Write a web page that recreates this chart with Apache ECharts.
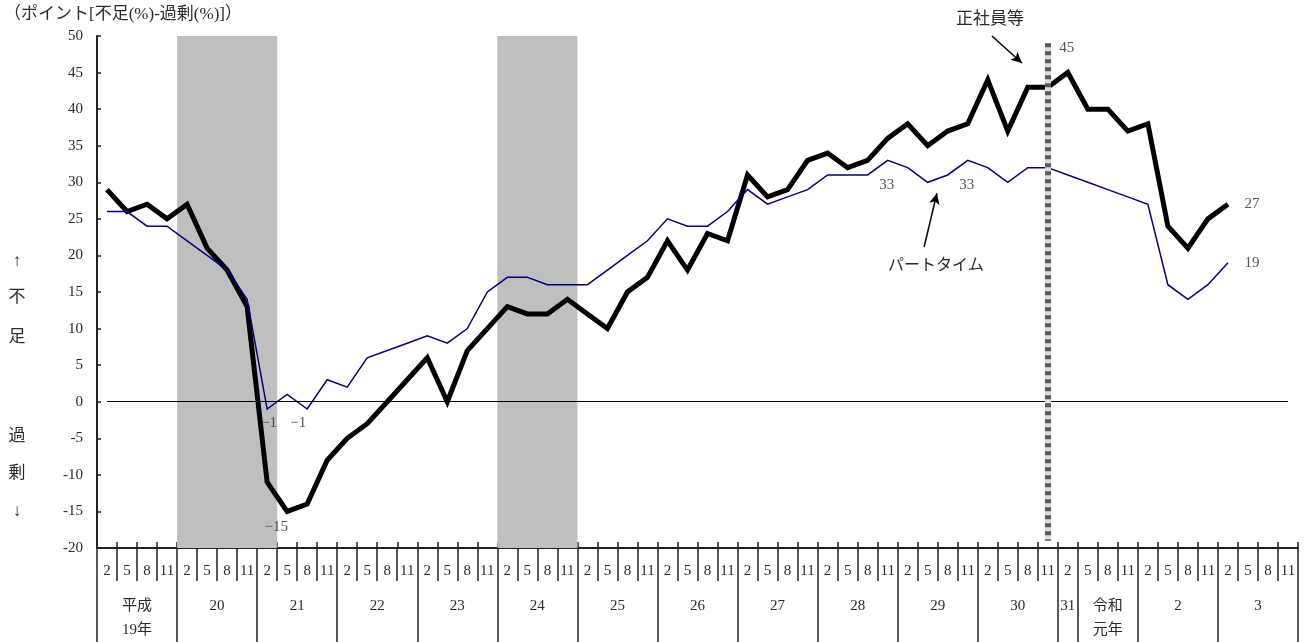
<!DOCTYPE html>
<html><head><meta charset="utf-8">
<script src="https://cdn.jsdelivr.net/npm/echarts@6/dist/echarts.min.js"></script>
<style>html,body{margin:0;padding:0;background:#fff}#c{width:1307px;height:642px}</style>
</head><body><div id="c"></div>
<script>
// ---- data ----
const quarterLabels = ['2','5','8','11'];
const yearLabels = ['平成\n19年','20','21','22','23','24','25','26','27','28','29','30','31','令和\n元年','2','3'];
const yearQuarters = [4,4,4,4,4,4,4,4,4,4,4,4,1,3,4,4];
const regular = [29,26,27,25,27,21,18,13,-11,-15,-14,-8,-5,-3,0,3,6,0,7,10,13,12,12,14,12,10,15,17,22,18,23,22,31,28,29,33,34,32,33,36,38,35,37,38,44,37,43,43,45,40,40,37,38,24,21,25,27];
const partTime = [26,26,24,24,22,20,18,14,-1,1,-1,3,2,6,7,8,9,8,10,15,17,17,16,16,16,18,20,22,25,24,24,26,29,27,28,29,31,31,31,33,32,30,31,33,32,30,32,32,31,30,29,28,27,16,14,16,19];
const shadedPeriods = [[4,9],[20,24]];   // quarter index ranges (start, end boundary)
const breakQuarter = 47;                  // 平成30年11月
const regularLabelIdx = [9,48,56];
const partLabelIdx = [8,10,39,43,56];

// ---- styles / positions ----
const FONT = "'Liberation Serif','Noto Sans CJK JP',serif";
const TXT = '#2a2a2a';
const regularLabelPos = {
  9:{position:'bottom',distance:8,offset:[-11,0]},
  48:{position:'top',distance:17,offset:[-1,0]},
  56:{position:'right',distance:16}
};
const partLabelPos = {
  8:{position:'bottom',distance:6,offset:[2,0]},
  10:{position:'bottom',distance:6,offset:[-9,0]},
  39:{position:'bottom',distance:17,offset:[-1,0]},
  43:{position:'bottom',distance:17,offset:[-1,0]},
  56:{position:'right',distance:16}
};

const nQ = yearQuarters.reduce((a,b)=>a+b,0);
const quarterCats = [];
for (let i=0;i<nQ;i++) quarterCats.push(quarterLabels[i%4]);
const yearCats = new Array(2*nQ+1).fill('');
const yearBounds = new Set([0]);
let acc = 0;
yearLabels.forEach((lab,k)=>{ const q=yearQuarters[k]; yearCats[2*acc+q]=lab; acc+=q; yearBounds.add(2*acc); });

const fmt = v => (v<0 ? '\u2212'+Math.abs(v) : String(v));
const pts = arr => arr.map((v,i)=>[i+0.5, v]);
const labelPts = (arr, idxs, pos) => idxs.map(i=>({
  value:[i+0.5, arr[i]],
  label:Object.assign({show:true, formatter:fmt(arr[i]), color:TXT, fontSize:15, fontFamily:FONT}, pos[i])
}));

const chart = echarts.init(document.getElementById('c'));
chart.setOption({
  animation:false,
  textStyle:{fontFamily:FONT},
  grid:{left:97,right:9,top:36,bottom:94,containLabel:false},
  xAxis:[
    {type:'value',min:0,max:nQ,interval:1,position:'bottom',
     axisLine:{show:true,onZero:false,lineStyle:{color:'#222',width:2}},
     axisTick:{show:true,inside:true,length:6,lineStyle:{color:'#222',width:1.5}},
     axisLabel:{show:false},splitLine:{show:false}},
    {type:'category',data:quarterCats,boundaryGap:true,position:'bottom',min:0,max:nQ-1,
     axisLine:{show:false,onZero:false},
     axisTick:{show:true,length:33,interval:0,lineStyle:{color:'#222',width:1.5}},
     axisLabel:{interval:0,margin:13,lineHeight:20,fontSize:15,color:TXT,fontFamily:FONT},
     splitLine:{show:false}},
    {type:'category',data:yearCats,boundaryGap:false,position:'bottom',min:0,max:2*nQ,
     axisLine:{show:false,onZero:false},
     axisTick:{show:true,length:94,interval:(i)=>yearBounds.has(i),lineStyle:{color:'#222',width:1.5}},
     axisLabel:{interval:(i,v)=>v!=='',margin:46,lineHeight:24,fontSize:15,color:TXT,fontFamily:FONT},
     splitLine:{show:false}}
  ],
  yAxis:{type:'value',min:-20,max:50,interval:5,
    axisLine:{show:true,onZero:false,lineStyle:{color:'#222',width:2}},
    axisTick:{show:true,inside:true,length:4,lineStyle:{color:'#222',width:1.5}},
    axisLabel:{margin:14,fontSize:15,color:TXT,fontFamily:FONT},
    splitLine:{show:false}},
  series:[
    {name:'正社員等',type:'line',xAxisIndex:0,data:pts(regular),showSymbol:false,silent:true,
     lineStyle:{color:'#000',width:5,join:'miter',cap:'butt'},z:3,
     markArea:{silent:true,itemStyle:{color:'#bfbfbf',opacity:1},
       data:shadedPeriods.map(p=>[{xAxis:p[0]},{xAxis:p[1]}])},
     markLine:{silent:true,symbol:['none','none'],label:{show:false},
       data:[
         [{coord:[0.5,0],lineStyle:{color:'#000',width:1.2,type:'solid'}},{coord:[nQ-0.5,0]}],
         [{coord:[breakQuarter+0.5,49],lineStyle:{color:'#dcdcdc',width:6,type:'solid'}},{coord:[breakQuarter+0.5,-19]}],
         [{coord:[breakQuarter+0.5,49],lineStyle:{color:'#5a5a5a',width:6,type:[4,4]}},{coord:[breakQuarter+0.5,-19]}]
       ]}},
    {name:'パートタイム',type:'line',xAxisIndex:0,data:pts(partTime),showSymbol:false,silent:true,
     lineStyle:{color:'#000080',width:1.5,join:'miter'},z:4,
     markLine:{silent:true,symbol:['none','arrow'],symbolSize:[8,11],label:{show:false},
       lineStyle:{color:'#000',width:1.5,type:'solid'},
       data:[
         [{coord:[44.71,50]},{coord:[46.21,46.3]}],
         [{coord:[41.32,21.15]},{coord:[41.96,28.5]}]
       ]}},
    {type:'scatter',xAxisIndex:0,silent:true,symbolSize:1,itemStyle:{color:'rgba(0,0,0,0)'},z:5,
     data:labelPts(regular,regularLabelIdx,regularLabelPos)},
    {type:'scatter',xAxisIndex:0,silent:true,symbolSize:1,itemStyle:{color:'rgba(0,0,0,0)'},z:5,
     data:labelPts(partTime,partLabelIdx,partLabelPos)}
  ],
  graphic:[
    {type:'text',left:4,top:6,style:{text:'（ポイント[不足(%)-過剰(%)]）',font:"17px "+FONT,fill:TXT}},
    {type:'text',x:990,y:20,style:{text:'正社員等',font:"17px "+FONT,fill:TXT,align:'center',verticalAlign:'middle'}},
    {type:'text',x:936,y:266,style:{text:'パートタイム',font:"16px "+FONT,fill:TXT,align:'center',verticalAlign:'middle'}},
    ...[['↑',262],['不',298],['足',338],['過',437],['剰',474],['↓',512]].map(([t,y])=>(
      {type:'text',x:17,y:y,style:{text:t,font:"17px "+FONT,fill:TXT,align:'center',verticalAlign:'middle'}}))
  ]
});
</script></body></html>
